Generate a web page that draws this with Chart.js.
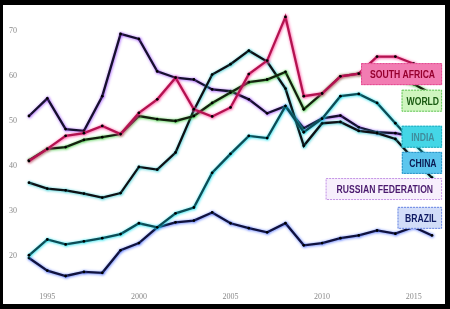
<!DOCTYPE html>
<html><head><meta charset="utf-8">
<script src="https://cdn.jsdelivr.net/npm/chart.js@4/dist/chart.umd.min.js"></script>
<style>
html,body{margin:0;padding:0;background:#000;}
#frame{position:absolute;left:0;top:0;width:450px;height:309px;background:#000;}
#wrap{position:absolute;left:3px;top:5px;width:442px;height:299px;background:#fff;}
canvas{display:block;}
</style></head><body>
<div id="frame"><div id="wrap"><canvas id="c" width="442" height="299"></canvas></div></div>
<script>
const years = [1994,1995,1996,1997,1998,1999,2000,2001,2002,2003,2004,2005,2006,2007,2008,2009,2010,2011,2012,2013,2014,2015,2016];
const southAfrica = [41.1,43.8,46.7,47.3,48.9,47.1,51.8,54.8,59.6,52.6,51.0,53.0,60.4,63.4,73.1,55.5,56.1,59.9,60.5,64.3,64.3,62.7,60.5];
const world = [41.3,43.8,44.2,45.8,46.4,47.1,51.1,50.4,50.0,51.1,54.0,56.3,58.6,59.2,60.9,52.6,56.1,59.9,60.5,59.6,59.2,58.2,56.0];
const india = [20.2,23.7,22.6,23.3,24.0,24.9,27.3,26.4,29.5,30.8,38.5,42.7,46.7,46.2,53.3,47.5,50.5,55.5,56.0,54.0,49.5,45.0,41.0];
const china = [36.3,35.0,34.6,33.9,33.0,34.0,39.8,39.2,43.0,52.4,60.3,62.6,65.6,63.2,57.2,44.5,49.5,49.8,47.8,47.3,46.0,41.5,37.4];
const russia = [51.1,55.0,48.2,47.8,55.5,69.3,68.2,61.0,59.6,59.2,57.0,56.6,54.8,51.7,53.3,48.4,50.6,51.2,48.6,47.5,47.3,46.5,46.0];
const brazil = [19.6,16.8,15.6,16.5,16.3,21.3,22.9,26.4,27.5,27.9,29.7,27.3,26.2,25.3,27.3,22.4,22.9,24.0,24.6,25.7,25.0,26.5,24.6];
const xTicks = [1995,2000,2005,2010,2015];
const yTicks = [20,30,40,50,60,70];

const seriesNames = ['SOUTH AFRICA','WORLD','INDIA','CHINA','RUSSIAN FEDERATION','BRAZIL'];
const seriesValues = [southAfrica, world, india, china, russia, brazil];
const lineColors = ['#b3124f','#14200e','#0c4c56','#0e1014','#16102e','#10123e'];
const glowColors = ['#ff3c96','#3ccc3c','#10e0ee','#28c8d0','#a050ff','#4a6cff'];
const labelValues = [60.4,54.5,46.5,40.7,34.9,28.5];
const labelStyles = [
  {fill:'#f27cb2', stroke:'#e24890', color:'#96002e', pad:16},
  {fill:'#cff5bf', stroke:'#64c45a', color:'#1a5a12', pad:8},
  {fill:'#44d6e6', stroke:'#22aabd', color:'#3f8c9c', pad:17},
  {fill:'#5cc6ee', stroke:'#2d92c4', color:'#0b1a52', pad:13},
  {fill:'#f7effc', stroke:'#c596e6', color:'#4a1a6e', pad:20},
  {fill:'#d2ddf8', stroke:'#6a86e2', color:'#0f1a62', pad:13}
];

const datasets = seriesNames.map((n,i)=>({
  label:n,
  data: years.map((yr,j)=>({x:yr,y:seriesValues[i][j]})),
  borderColor: lineColors[i],
  backgroundColor: '#000',
  pointBackgroundColor:'#000',
  pointBorderColor:'#000',
  pointRadius:1.4,
  pointBorderWidth:0,
  borderWidth:2.3,
  tension:0,
  glow: glowColors[i]
}));

const glowPlugin = {
  id:'glow',
  beforeDatasetDraw(chart,args){
    const ctx = chart.ctx;
    ctx.save();
    ctx.shadowColor = chart.data.datasets[args.index].glow;
    ctx.shadowBlur = 3;
    ctx.shadowOffsetX = 0.5;
    ctx.shadowOffsetY = 0.5;
  },
  afterDatasetDraw(chart){ chart.ctx.restore(); }
};

const labelPlugin = {
  id:'labels',
  afterDraw(chart){
    const ctx = chart.ctx;
    const xs = chart.scales.x, ys = chart.scales.y;
    const right = xs.getPixelForValue(2016.55);
    const sx = 0.82;
    ctx.save();
    ctx.font = 'bold 10.5px "Liberation Sans", sans-serif';
    ctx.textBaseline = 'middle';
    ctx.textAlign = 'center';
    seriesNames.forEach((n,i)=>{
      const st = labelStyles[i];
      const w = ctx.measureText(n).width * sx + st.pad;
      const h = 22;
      const cy = ys.getPixelForValue(labelValues[i]);
      const x0 = right - w;
      ctx.fillStyle = st.fill;
      ctx.fillRect(x0, cy - h/2, w, h);
      ctx.strokeStyle = st.stroke;
      ctx.lineWidth = 1;
      ctx.setLineDash([2,1]);
      ctx.strokeRect(x0+0.5, cy - h/2 + 0.5, w-1, h-1);
      ctx.setLineDash([]);
      ctx.save();
      ctx.translate(x0 + w/2 + 1, cy + 1);
      ctx.scale(sx, 1);
      ctx.fillStyle = st.color;
      ctx.fillText(n, 0, 0);
      ctx.restore();
    });
    ctx.restore();
  }
};

function zeroPad(s){ s.paddingTop = 0; s.paddingBottom = 0; s.paddingLeft = 0; s.paddingRight = 0; }

new Chart(document.getElementById('c'), {
  type:'line',
  data:{datasets},
  options:{
    responsive:false,
    animation:false,
    layout:{padding:{left:0,right:5,top:2,bottom:0}},
    plugins:{legend:{display:false}, tooltip:{enabled:false}},
    scales:{
      x:{
        type:'linear', min:1993.455, max:2016.436,
        grid:{display:false, drawTicks:false}, border:{display:false},
        afterBuildTicks:s=>{ s.ticks = xTicks.map(v=>({value:v})); },
        afterFit:s=>{ s.height = 19; zeroPad(s); },
        ticks:{font:{family:'Liberation Serif', size:8}, color:'#8a8a8a', padding:7, maxRotation:0, callback:v=>String(v)}
      },
      y:{
        type:'linear', min:13.6, max:74.85,
        grid:{display:false, drawTicks:false}, border:{display:false},
        afterBuildTicks:s=>{ s.ticks = yTicks.map(v=>({value:v})); },
        afterFit:s=>{ s.width = 16; zeroPad(s); },
        ticks:{font:{family:'Liberation Serif', size:8}, color:'#8a8a8a', padding:2, callback:v=>String(v)}
      }
    }
  },
  plugins:[glowPlugin,labelPlugin]
});
</script>
</body></html>
